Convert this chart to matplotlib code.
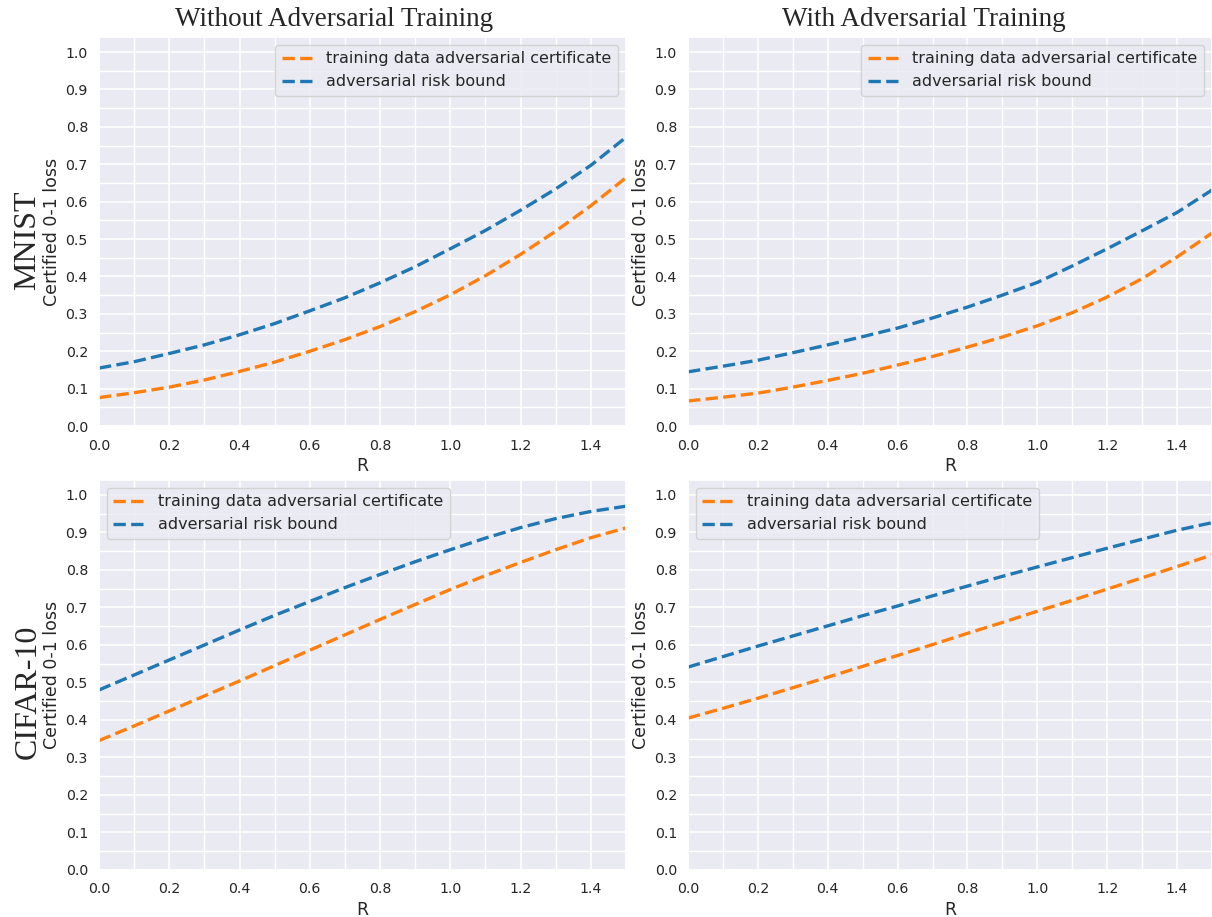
import numpy as np
import matplotlib
matplotlib.use('Agg')
import matplotlib.pyplot as plt
import seaborn as sns

# Radius values shared by all four panels
R = [0.0, 0.1, 0.2, 0.3, 0.4, 0.5, 0.6, 0.7, 0.8, 0.9,
     1.0, 1.1, 1.2, 1.3, 1.4, 1.5]

# MNIST, without adversarial training
mnist_cert = [0.076, 0.089, 0.104, 0.123, 0.146, 0.171, 0.200, 0.231,
              0.266, 0.306, 0.351, 0.402, 0.459, 0.521, 0.589, 0.664]
mnist_risk = [0.155, 0.172, 0.194, 0.217, 0.244, 0.274, 0.308, 0.343,
              0.383, 0.426, 0.474, 0.523, 0.577, 0.634, 0.697, 0.772]

# MNIST, with adversarial training
mnist_adv_cert = [0.067, 0.077, 0.088, 0.104, 0.122, 0.141, 0.163, 0.186,
                  0.211, 0.238, 0.268, 0.303, 0.345, 0.394, 0.452, 0.516]
mnist_adv_risk = [0.145, 0.160, 0.176, 0.196, 0.217, 0.239, 0.262, 0.289,
                  0.318, 0.350, 0.384, 0.428, 0.474, 0.522, 0.571, 0.631]

# CIFAR-10, without adversarial training
cifar_cert = [0.345, 0.384, 0.424, 0.464, 0.504, 0.545, 0.586, 0.627,
              0.668, 0.708, 0.748, 0.785, 0.820, 0.854, 0.886, 0.912]
cifar_risk = [0.480, 0.520, 0.560, 0.600, 0.640, 0.679, 0.716, 0.753,
              0.788, 0.822, 0.854, 0.885, 0.913, 0.937, 0.956, 0.970]

# CIFAR-10, with adversarial training
cifar_adv_cert = [0.405, 0.431, 0.458, 0.486, 0.514, 0.543, 0.572, 0.601,
                  0.631, 0.660, 0.690, 0.719, 0.749, 0.779, 0.809, 0.840]
cifar_adv_risk = [0.541, 0.569, 0.597, 0.624, 0.651, 0.678, 0.704, 0.731,
                  0.757, 0.783, 0.808, 0.833, 0.858, 0.882, 0.906, 0.926]

col_titles = ['Without Adversarial Training', 'With Adversarial Training']
row_titles = ['MNIST', 'CIFAR-10']
cert_label = 'training data adversarial certificate'
risk_label = 'adversarial risk bound'

sns.set_theme(style='darkgrid')
plt.rcParams['font.family'] = ['DejaVu Sans']

fig = plt.figure(figsize=(12.12, 9.17), dpi=100)

# panel boxes in figure fractions: [left, bottom, width, height]
lefts = [0.0817, 0.5677]
widths = [0.4348, 0.4323]
bottoms = [0.5354, 0.0513]
heights = [0.4242, 0.4253]

panels = [[(mnist_cert, mnist_risk), (mnist_adv_cert, mnist_adv_risk)],
          [(cifar_cert, cifar_risk), (cifar_adv_cert, cifar_adv_risk)]]

for row in range(2):
    for col in range(2):
        ax = fig.add_axes([lefts[col], bottoms[row], widths[col], heights[row]])
        cert, risk = panels[row][col]
        ax.plot(R, cert, '--', color='#ff7f0e', linewidth=2.4, label=cert_label)
        ax.plot(R, risk, '--', color='#1f77b4', linewidth=2.4, label=risk_label)

        ax.set_xlim(0, 1.5)
        ax.set_ylim(0, 1.04)
        ax.set_xticks(np.arange(0, 1.5, 0.2))
        ax.set_yticks(np.arange(0, 1.01, 0.1))
        ax.set_xticks(np.arange(0, 1.51, 0.1), minor=True)
        ax.set_yticks(np.arange(0, 1.04, 0.05), minor=True)
        ax.grid(which='major', color='white', linewidth=1.1)
        ax.grid(which='minor', color='white', linewidth=1.0)
        ax.tick_params(which='both', length=0, labelsize=10.2,
                       labelcolor='#262626')
        ax.tick_params(axis='x', pad=9)
        ax.tick_params(axis='y', pad=8)

        ax.set_xlabel('R', fontsize=12.5, color='#262626', labelpad=3)
        ax.set_ylabel('Certified 0-1 loss', fontsize=12.5, color='#262626',
                      labelpad=3)

        loc = 'upper right' if row == 0 else 'upper left'
        ax.legend(loc=loc, fontsize=11.5)

# column headings, set slightly left of the panel centres
fig.text(334 / 1212, 1 - 19 / 917, col_titles[0], family='Liberation Serif',
         fontsize=19.5, ha='center', va='center')
fig.text(924 / 1212, 1 - 19 / 917, col_titles[1], family='Liberation Serif',
         fontsize=19.5, ha='center', va='center')

# dataset names down the left edge
fig.text(28 / 1212, 1 - 240 / 917, row_titles[0], family='Liberation Serif',
         fontsize=23, rotation=90, ha='center', va='center')
fig.text(28 / 1212, 1 - 692 / 917, row_titles[1], family='Liberation Serif',
         fontsize=23, rotation=90, ha='center', va='center')

fig.savefig('out.png', dpi=100)
